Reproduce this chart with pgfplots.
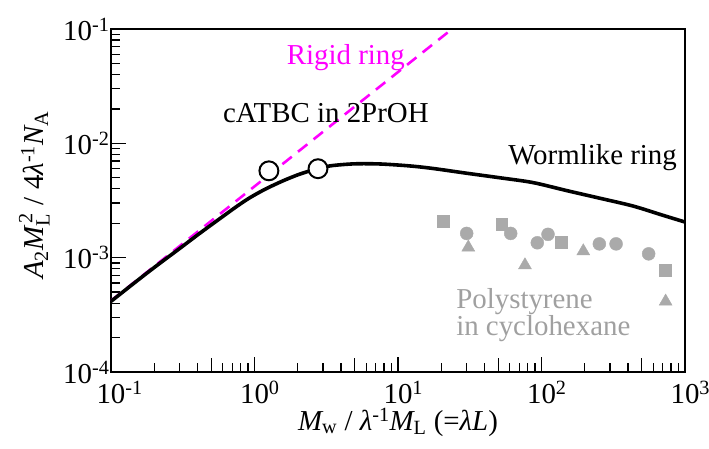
\documentclass[border=0pt]{standalone}
\usepackage{fontspec}
\setmainfont{Liberation Serif}
\usepackage{amsmath}
\usepackage{pgfplots}
\pgfplotsset{compat=1.18}
\definecolor{psgray}{RGB}{170,170,170}
\definecolor{txtgray}{RGB}{160,160,160}
\definecolor{mag}{RGB}{255,0,255}
\begin{document}
\begin{tikzpicture}
\useasboundingbox (0,0) rectangle (709bp,449bp);
\begin{axis}[
  at={(111bp,77bp)}, anchor=south west,
  scale only axis, width=574bp, height=343bp,
  xmode=log, ymode=log,
  xmin=0.1, xmax=1000, ymin=1e-4, ymax=0.1,
  axis line style={line width=2.2pt},
  every tick/.style={line width=1.3pt, black},
  tick align=inside,
  xtick pos=bottom, ytick pos=left,
  major tick length=15pt, minor tick length=9pt,
  font=\fontsize{29}{34}\selectfont,
  tick label style={font=\fontsize{29}{34}\selectfont},
  label style={font=\fontsize{29}{34}\selectfont},
  xticklabel style={yshift=-6bp},
  yticklabel style={xshift=2bp},
  xtick={0.1,1,10,100,1000},
  xticklabels={10\rlap{\textsuperscript{-1}},10\rlap{\textsuperscript{0}},10\rlap{\textsuperscript{1}},10\rlap{\textsuperscript{2}},10\rlap{\textsuperscript{3}}},
  minor xtick={0.2,0.3,0.4,0.6,0.7,0.8,0.9,2,3,4,6,7,8,9,20,30,40,60,70,80,90,200,300,400,600,700,800,900},
  extra x ticks={0.5,5,50,500},
  extra x tick labels={},
  extra x tick style={major tick length=14pt},
  ytick={1e-4,1e-3,1e-2,1e-1},
  yticklabels={10\textsuperscript{-4},10\textsuperscript{-3},10\textsuperscript{-2},10\textsuperscript{-1}},
  minor ytick={2e-4,3e-4,4e-4,5e-4,6e-4,7e-4,8e-4,9e-4,2e-3,3e-3,4e-3,5e-3,6e-3,7e-3,8e-3,9e-3,2e-2,3e-2,4e-2,5e-2,6e-2,7e-2,8e-2,9e-2},
  xlabel={$\textit{M}_{\text{w}}$ / \textit{λ}\textsuperscript{-1}$\textit{M}_{\text{L}}$ (=\textit{λL})},
  xlabel style={at={(axis description cs:0.5,0)}, anchor=base, yshift=-58bp},
  ylabel={$\textit{A}_{\text{2}}\textit{M}_{\text{L}}^{\,\text{2}}$ / 4\textit{λ}\textsuperscript{-1}$\textit{N}_{\text{A}}$},
  ylabel style={at={(axis description cs:-0.118,0.516)}, anchor=base},
]
% rigid ring
\addplot[mag, line width=2.6pt, dash pattern=on 12pt off 8pt] coordinates {(0.1,4.2e-4) (23.8,0.1)};
% wormlike ring
\addplot[black, line width=3.6pt, smooth] coordinates {
(0.1,4.15e-4) (0.15,6.2e-4) (0.2,8.2e-4) (0.3,1.2e-3) (0.42,1.65e-3) (0.575,2.2e-3)
(0.75,2.8e-3) (0.93,3.35e-3) (1.2,4.0e-3) (1.58,4.7e-3) (2.0,5.3e-3) (2.44,5.75e-3)
(3.0,6.15e-3) (3.52,6.4e-3) (5,6.62e-3) (7.5,6.6e-3) (12,6.35e-3) (17.5,6.03e-3)
(30,5.48e-3) (50,5.02e-3) (87,4.54e-3) (150,3.86e-3) (250,3.33e-3) (434,2.83e-3)
(700,2.35e-3) (1000,2.05e-3)};
% cATBC data
\addplot[only marks, mark=*, mark size=9.5pt, mark options={fill=white, draw=black, line width=2pt}] coordinates {(1.26,5.75e-3) (2.77,6.0e-3)};
% polystyrene
\addplot[only marks, mark=square*, mark size=6pt, color=psgray] coordinates {(20.5,2.09e-3) (52.8,1.95e-3) (138,1.37e-3) (726,7.7e-4)};
\addplot[only marks, mark=*, mark size=6.5pt, color=psgray] coordinates {(30.1,1.63e-3) (61,1.63e-3) (93.5,1.35e-3) (111,1.60e-3) (253,1.32e-3) (331,1.32e-3) (558,1.08e-3)};
\addplot[only marks, mark=triangle*, mark size=7.5pt, color=psgray] coordinates {(30.9,1.23e-3) (76.7,8.6e-4) (195.6,1.14e-3) (733,4.14e-4)};
% labels
\node[anchor=base east, inner sep=0pt, text=mag] at (axis cs:11.2,0.049) {Rigid ring};
\node[anchor=base east, inner sep=0pt] at (axis cs:16.4,0.01531) {cATBC in 2PrOH};
\node[anchor=base east, inner sep=0pt] at (axis cs:880,6.5e-3) {Wormlike ring};
\node[anchor=west, inner sep=0pt, align=left, text=txtgray, font=\fontsize{29}{27}\selectfont] at (axis cs:25.4,3.15e-4) {Polystyrene\\in cyclohexane};
\end{axis}
\end{tikzpicture}
\end{document}
